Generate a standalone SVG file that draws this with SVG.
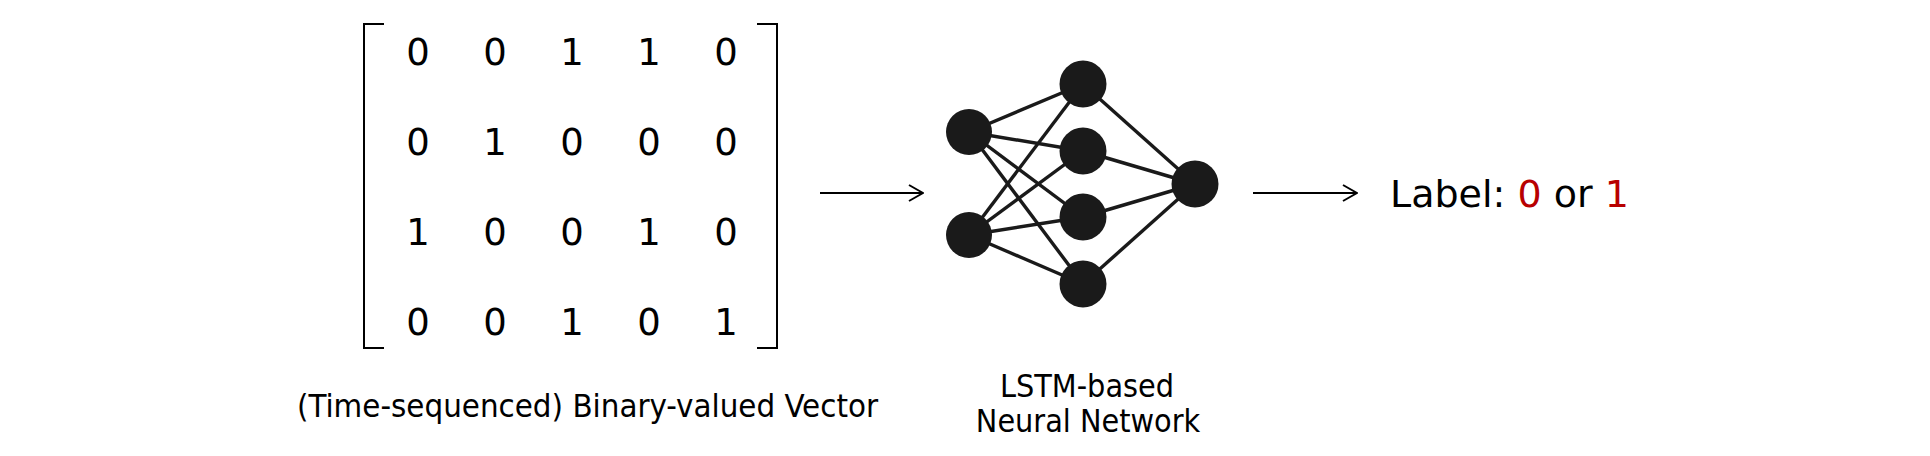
<svg xmlns="http://www.w3.org/2000/svg" width="1930" height="456" viewBox="0 0 1930 456">
<defs>
<style>
.digit{font-family:"DejaVu Sans","Liberation Sans",sans-serif;font-size:37px;fill:#000;text-anchor:middle}
.cap{font-family:"DejaVu Sans Condensed","DejaVu Sans","Liberation Sans",sans-serif;font-size:32px;fill:#000}
.lbl{font-family:"DejaVu Sans","Liberation Sans",sans-serif;font-size:38px;fill:#000}
.red{fill:#b80000}
.bracket{fill:none;stroke:#000;stroke-width:2}
.edge{stroke:#1a1a1a;stroke-width:3.4}
.node{fill:#1a1a1a}
.arrow{fill:none;stroke:#000;stroke-width:2}
</style>
<marker id="head" viewBox="0 0 16 20" refX="15" refY="10" markerWidth="16" markerHeight="20" markerUnits="userSpaceOnUse" orient="auto">
<path d="M1,2 L15,10 L1,18" fill="none" stroke="#000" stroke-width="2"/>
</marker>
</defs>
<rect width="1930" height="456" fill="#fff"/>
<g id="matrix">
<path class="bracket" d="M384,24 H364 V348 H384"/>
<path class="bracket" d="M757,24 H777 V348 H757"/>
<g>
<text class="digit" x="418" y="65">0</text><text class="digit" x="495" y="65">0</text><text class="digit" x="572" y="65">1</text><text class="digit" x="649" y="65">1</text><text class="digit" x="726" y="65">0</text>
<text class="digit" x="418" y="155">0</text><text class="digit" x="495" y="155">1</text><text class="digit" x="572" y="155">0</text><text class="digit" x="649" y="155">0</text><text class="digit" x="726" y="155">0</text>
<text class="digit" x="418" y="245">1</text><text class="digit" x="495" y="245">0</text><text class="digit" x="572" y="245">0</text><text class="digit" x="649" y="245">1</text><text class="digit" x="726" y="245">0</text>
<text class="digit" x="418" y="335">0</text><text class="digit" x="495" y="335">0</text><text class="digit" x="572" y="335">1</text><text class="digit" x="649" y="335">0</text><text class="digit" x="726" y="335">1</text>
</g>
<text class="cap" x="297" y="417" textLength="581" lengthAdjust="spacingAndGlyphs">(Time-sequenced) Binary-valued Vector</text>
</g>
<g id="network">
<g id="nn-edges">
<line class="edge" x1="969" y1="132" x2="1083" y2="84"/>
<line class="edge" x1="969" y1="132" x2="1083" y2="151"/>
<line class="edge" x1="969" y1="132" x2="1083" y2="217"/>
<line class="edge" x1="969" y1="132" x2="1083" y2="284"/>
<line class="edge" x1="969" y1="235" x2="1083" y2="84"/>
<line class="edge" x1="969" y1="235" x2="1083" y2="151"/>
<line class="edge" x1="969" y1="235" x2="1083" y2="217"/>
<line class="edge" x1="969" y1="235" x2="1083" y2="284"/>
<line class="edge" x1="1083" y1="84" x2="1195" y2="184"/>
<line class="edge" x1="1083" y1="151" x2="1195" y2="184"/>
<line class="edge" x1="1083" y1="217" x2="1195" y2="184"/>
<line class="edge" x1="1083" y1="284" x2="1195" y2="184"/>
</g>
<circle class="node" cx="969" cy="132" r="23"/>
<circle class="node" cx="969" cy="235" r="23"/>
<circle class="node" cx="1083" cy="84" r="23.5"/>
<circle class="node" cx="1083" cy="151" r="23.5"/>
<circle class="node" cx="1083" cy="217" r="23.5"/>
<circle class="node" cx="1083" cy="284" r="23.5"/>
<circle class="node" cx="1195" cy="184" r="23.5"/>
<text class="cap" x="1087" y="397" text-anchor="middle">LSTM-based</text>
<text class="cap" x="1088" y="432" text-anchor="middle">Neural Network</text>
</g>
<g id="output">
<text class="lbl" x="1390" y="207">Label: <tspan class="red">0</tspan> or <tspan class="red">1</tspan></text>
</g>
<g id="connectors">
<line class="arrow" x1="820" y1="193" x2="923" y2="193" marker-end="url(#head)"/>
<line class="arrow" x1="1253" y1="193" x2="1357" y2="193" marker-end="url(#head)"/>
</g>
</svg>
